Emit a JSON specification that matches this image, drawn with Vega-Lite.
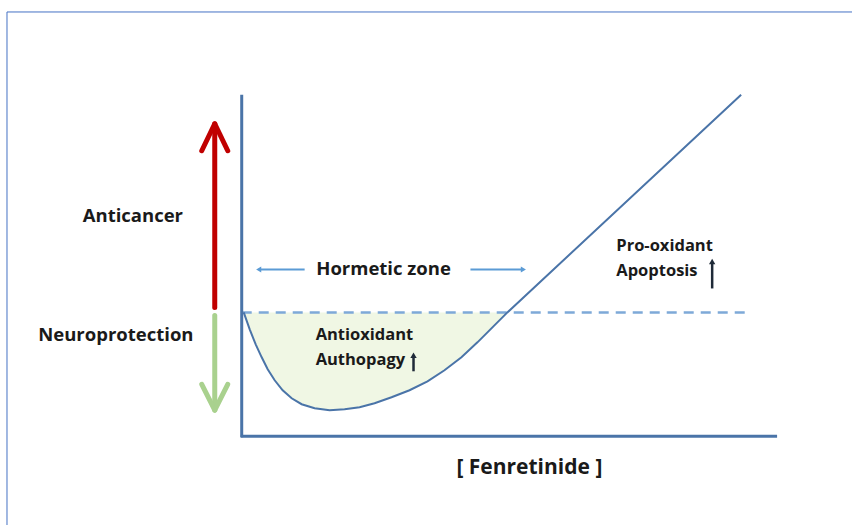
{
  "$schema": "https://vega.github.io/schema/vega-lite/v6.json",
  "width": 853,
  "height": 526,
  "autosize": {"type": "fit", "contains": "padding"},
  "padding": 0,
  "background": "white",
  "config": {"view": {"stroke": null}},
  "datasets": {
    "curve": [
      {"x": 244, "y": 313}, {"x": 250, "y": 330}, {"x": 256, "y": 345}, {"x": 262, "y": 358},
      {"x": 268, "y": 370}, {"x": 275, "y": 381}, {"x": 283, "y": 391}, {"x": 292, "y": 399},
      {"x": 302, "y": 405}, {"x": 315, "y": 409}, {"x": 330, "y": 411}, {"x": 345, "y": 410},
      {"x": 360, "y": 408}, {"x": 375, "y": 404}, {"x": 392, "y": 398}, {"x": 410, "y": 391},
      {"x": 428, "y": 382}, {"x": 445, "y": 371}, {"x": 462, "y": 358}, {"x": 478, "y": 343},
      {"x": 493, "y": 328}, {"x": 508, "y": 313}, {"x": 742, "y": 95}
    ],
    "labels": [
      {"x": 133, "y": 216, "t": "Anticancer", "s": "big"},
      {"x": 116, "y": 336, "t": "Neuroprotection", "s": "big"},
      {"x": 384, "y": 270, "t": "Hormetic zone", "s": "big"},
      {"x": 530, "y": 469, "t": "[ Fenretinide ]", "s": "axis"}
    ],
    "small": [
      {"x": 316, "y": 336, "t": "Antioxidant"},
      {"x": 316, "y": 361, "t": "Authopagy"},
      {"x": 617, "y": 246, "t": "Pro-oxidant"},
      {"x": 617, "y": 272, "t": "Apoptosis"}
    ]
  },
  "encoding": {
    "x": {"field": "x", "type": "quantitative", "scale": {"domain": [0, 853], "nice": false, "zero": false}, "axis": null},
    "y": {"field": "y", "type": "quantitative", "scale": {"domain": [0, 526], "nice": false, "zero": false, "reverse": true}, "axis": null}
  },
  "layer": [
    {
      "data": {"values": [{"x": 7, "y": 12, "x2": 7, "y2": 526}, {"x": 7, "y": 12, "x2": 853, "y2": 12}]},
      "mark": {"type": "rule", "color": "#4472c4", "strokeWidth": 1},
      "encoding": {"x2": {"field": "x2"}, "y2": {"field": "y2"}}
    },
    {
      "data": {"name": "curve"},
      "transform": [{"filter": "datum.x <= 508"}],
      "mark": {"type": "area", "color": "#f0f7e4", "opacity": 1},
      "encoding": {"y2": {"datum": 313}}
    },
    {
      "data": {"values": [{"x": 242, "y": 313, "x2": 750}]},
      "mark": {"type": "rule", "color": "#7ea9d8", "strokeWidth": 2.5, "strokeDash": [10, 7]},
      "encoding": {"x2": {"field": "x2"}}
    },
    {
      "data": {"name": "curve"},
      "mark": {"type": "line", "color": "#4a74a8", "strokeWidth": 2},
      "encoding": {"order": {"field": "x", "type": "quantitative"}}
    },
    {
      "data": {"values": [{"x": 242, "y": 95, "x2": 242, "y2": 438}, {"x": 241, "y": 437, "x2": 778, "y2": 437}]},
      "mark": {"type": "rule", "color": "#4a74a8", "strokeWidth": 3},
      "encoding": {"x2": {"field": "x2"}, "y2": {"field": "y2"}}
    },
    {
      "data": {"values": [
        {"x": 215, "y": 308, "x2": 215, "y2": 126},
        {"x": 202, "y": 151, "x2": 215, "y2": 124},
        {"x": 228, "y": 151, "x2": 215, "y2": 124}
      ]},
      "mark": {"type": "rule", "color": "#c00000", "strokeWidth": 5, "strokeCap": "round"},
      "encoding": {"x2": {"field": "x2"}, "y2": {"field": "y2"}}
    },
    {
      "data": {"values": [
        {"x": 215, "y": 316, "x2": 215, "y2": 409},
        {"x": 202, "y": 385, "x2": 215, "y2": 411},
        {"x": 228, "y": 385, "x2": 215, "y2": 411}
      ]},
      "mark": {"type": "rule", "color": "#a9d18e", "strokeWidth": 5, "strokeCap": "round"},
      "encoding": {"x2": {"field": "x2"}, "y2": {"field": "y2"}}
    },
    {
      "data": {"values": [{"x": 305, "y": 270, "x2": 261}, {"x": 471, "y": 270, "x2": 522}]},
      "mark": {"type": "rule", "color": "#5b9bd5", "strokeWidth": 1.8},
      "encoding": {"x2": {"field": "x2"}}
    },
    {
      "data": {"values": [{"x": 259, "y": 270, "d": "l"}]},
      "mark": {"type": "point", "shape": "triangle-left", "filled": true, "color": "#5b9bd5", "size": 35, "opacity": 1}
    },
    {
      "data": {"values": [{"x": 524, "y": 270, "d": "r"}]},
      "mark": {"type": "point", "shape": "triangle-right", "filled": true, "color": "#5b9bd5", "size": 35, "opacity": 1}
    },
    {
      "data": {"values": [{"x": 414, "y": 372, "y2": 358}, {"x": 713, "y": 289, "y2": 264}]},
      "mark": {"type": "rule", "color": "#1f2a38", "strokeWidth": 2.5},
      "encoding": {"y2": {"field": "y2"}}
    },
    {
      "data": {"values": [{"x": 414, "y": 356}, {"x": 713, "y": 262}]},
      "mark": {"type": "point", "shape": "triangle-up", "filled": true, "color": "#1f2a38", "size": 40, "opacity": 1}
    },
    {
      "data": {"name": "labels"},
      "transform": [{"filter": "datum.s == 'big'"}],
      "mark": {"type": "text", "font": "Open Sans", "fontWeight": "bold", "fontSize": 18.5, "color": "#1a1a1a", "align": "center", "baseline": "middle"},
      "encoding": {"text": {"field": "t"}}
    },
    {
      "data": {"name": "labels"},
      "transform": [{"filter": "datum.s == 'axis'"}],
      "mark": {"type": "text", "font": "Open Sans", "fontWeight": "bold", "fontSize": 21, "color": "#1a1a1a", "align": "center", "baseline": "middle"},
      "encoding": {"text": {"field": "t"}}
    },
    {
      "data": {"name": "small"},
      "mark": {"type": "text", "font": "Open Sans", "fontWeight": "bold", "fontSize": 16.5, "color": "#1a1a1a", "align": "left", "baseline": "middle"},
      "encoding": {"text": {"field": "t"}}
    }
  ]
}
